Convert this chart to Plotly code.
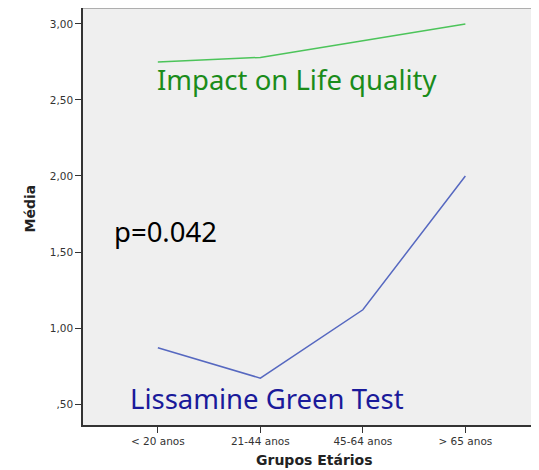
import plotly.graph_objects as go

categories = ["< 20 anos", "21-44 anos", "45-64 anos", "> 65 anos"]
life_quality = [2.75, 2.78, 2.89, 3.00]
lissamine = [0.87, 0.67, 1.12, 2.00]
ytick_vals = [0.5, 1.0, 1.5, 2.0, 2.5, 3.0]
ytick_text = [",50", "1,00", "1,50", "2,00", "2,50", "3,00"]

x_idx = list(range(len(categories)))

fig = go.Figure()
fig.add_trace(go.Scatter(x=x_idx, y=life_quality, mode="lines",
                         line=dict(color="#4cc45a", width=1.5), showlegend=False))
fig.add_trace(go.Scatter(x=x_idx, y=lissamine, mode="lines",
                         line=dict(color="#5668c0", width=1.5), showlegend=False))

ann_font = "Noto Sans, Open Sans"
fig.add_annotation(x=-0.027, y=2.632, xref="x", yref="y", text="Impact on Life quality",
                   showarrow=False, xanchor="left", yanchor="middle",
                   font=dict(family=ann_font, size=27.5, color="#1a8c1a"))
fig.add_annotation(x=-0.447, y=1.632, xref="x", yref="y", text="p=0.042",
                   showarrow=False, xanchor="left", yanchor="middle",
                   font=dict(family=ann_font, size=27.5, color="#000000"))
fig.add_annotation(x=-0.291, y=0.539, xref="x", yref="y", text="Lissamine Green Test",
                   showarrow=False, xanchor="left", yanchor="middle",
                   font=dict(family=ann_font, size=27.5, color="#1a1a9a"))

# axis titles
fig.add_annotation(x=-0.117, y=0.518, xref="paper", yref="paper", text="<b>Média</b>",
                   showarrow=False, textangle=-90, xanchor="center", yanchor="middle",
                   font=dict(family="DejaVu Sans", size=14, color="#222222"))
fig.add_annotation(x=0.506, y=-0.0839, xref="paper", yref="paper", text="<b>Grupos Etários</b>",
                   showarrow=False, xanchor="center", yanchor="middle",
                   font=dict(family="DejaVu Sans", size=14, color="#222222"))

# top frame line
fig.add_shape(type="line", xref="paper", yref="paper", x0=0, x1=1, y0=1, y1=1,
              line=dict(color="#999999", width=1.5))

fig.update_layout(
    width=539, height=470,
    margin=dict(l=75, r=7, t=0, b=53, autoexpand=False),
    paper_bgcolor="white",
    plot_bgcolor="#efefef",
    font=dict(family="DejaVu Sans", color="#333333"),
    xaxis=dict(
        range=[-0.73, 3.728], automargin=False,
        tickvals=x_idx, ticktext=categories,
        ticks="outside", ticklen=6, tickcolor="#333333",
        tickfont=dict(size=10.5, color="#333333"),
        showgrid=False, zeroline=False,
        showline=True, linecolor="#333333", linewidth=1.5,
    ),
    yaxis=dict(
        range=[0.362, 3.105], automargin=False,
        tickvals=ytick_vals, ticktext=ytick_text,
        ticks="outside", ticklen=6, tickcolor="#333333",
        tickfont=dict(size=10.5, color="#333333"),
        showgrid=False, zeroline=False,
        showline=True, linecolor="#333333", linewidth=1.5,
    ),
)

fig.write_html("out.html")
